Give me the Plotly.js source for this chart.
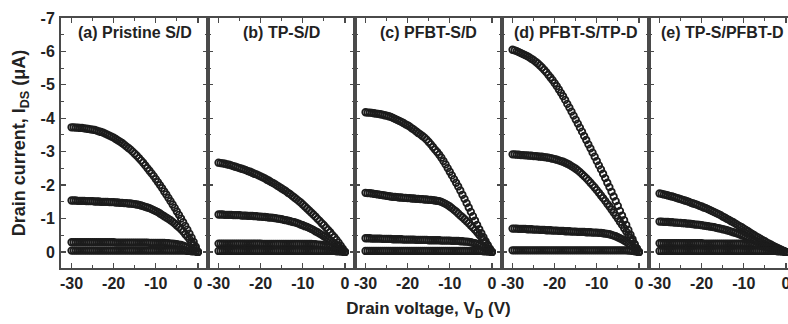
<!DOCTYPE html>
<html>
<head>
<meta charset="utf-8">
<script src="https://cdn.plot.ly/plotly-3.0.1.min.js"></script>
<style>
html,body{margin:0;padding:0;overflow:hidden;background:#fff;}
#chart{width:796px;height:324px;}
</style>
</head>
<body>
<div id="chart"></div>
<script>
// Drain voltage sweep (V)
const drainV = [-30,-29.5,-29,-28.5,-28,-27.5,-27,-26.5,-26,-25.5,-25,-24.5,-24,-23.5,-23,-22.5,-22,-21.5,-21,-20.5,-20,-19.5,-19,-18.5,-18,-17.5,-17,-16.5,-16,-15.5,-15,-14.5,-14,-13.5,-13,-12.5,-12,-11.5,-11,-10.5,-10,-9.5,-9,-8.5,-8,-7.5,-7,-6.5,-6,-5.5,-5,-4.5,-4,-3.5,-3,-2.5,-2,-1.5,-1,-0.5,0];

const panelTitles = ["(a) Pristine S/D","(b) TP-S/D","(c) PFBT-S/D","(d) PFBT-S/TP-D","(e) TP-S/PFBT-D"];
const xTickVals = [-30,-20,-10,0];
const xTickText = ["-30","-20","-10","0"];
const yTickVals = [-7,-6,-5,-4,-3,-2,-1,0];
const yTickText = ["-7","-6","-5","-4","-3","-2","-1","0"];

// (a) Pristine S/D
const a1 = [-3.73,-3.73,-3.72,-3.72,-3.71,-3.71,-3.70,-3.69,-3.68,-3.67,-3.66,-3.65,-3.63,-3.61,-3.59,-3.57,-3.54,-3.51,-3.48,-3.45,-3.42,-3.38,-3.34,-3.30,-3.26,-3.21,-3.16,-3.11,-3.06,-3.00,-2.94,-2.88,-2.81,-2.74,-2.67,-2.59,-2.51,-2.43,-2.35,-2.27,-2.18,-2.09,-2.00,-1.91,-1.81,-1.72,-1.62,-1.52,-1.42,-1.32,-1.21,-1.11,-1.00,-0.89,-0.78,-0.67,-0.55,-0.43,-0.30,-0.16,0];
const a2 = [-1.54,-1.54,-1.54,-1.53,-1.53,-1.53,-1.53,-1.52,-1.52,-1.52,-1.52,-1.51,-1.51,-1.51,-1.50,-1.50,-1.50,-1.50,-1.49,-1.49,-1.49,-1.48,-1.48,-1.47,-1.47,-1.46,-1.46,-1.45,-1.45,-1.44,-1.43,-1.42,-1.41,-1.39,-1.37,-1.35,-1.33,-1.31,-1.28,-1.25,-1.22,-1.19,-1.15,-1.11,-1.07,-1.03,-0.99,-0.95,-0.90,-0.85,-0.79,-0.74,-0.68,-0.61,-0.53,-0.46,-0.38,-0.29,-0.20,-0.10,0];
const a3 = [-0.29,-0.29,-0.29,-0.29,-0.29,-0.29,-0.29,-0.29,-0.29,-0.29,-0.29,-0.29,-0.29,-0.29,-0.29,-0.29,-0.29,-0.29,-0.29,-0.29,-0.29,-0.28,-0.28,-0.28,-0.28,-0.28,-0.28,-0.28,-0.28,-0.28,-0.28,-0.28,-0.28,-0.28,-0.28,-0.28,-0.28,-0.27,-0.27,-0.27,-0.27,-0.27,-0.27,-0.27,-0.27,-0.26,-0.26,-0.25,-0.25,-0.24,-0.23,-0.22,-0.21,-0.19,-0.17,-0.15,-0.12,-0.09,-0.06,-0.03,0];
const a4 = [-0.04,-0.04,-0.04,-0.04,-0.04,-0.04,-0.04,-0.04,-0.04,-0.04,-0.04,-0.04,-0.04,-0.04,-0.04,-0.04,-0.04,-0.04,-0.04,-0.04,-0.04,-0.04,-0.04,-0.04,-0.04,-0.04,-0.04,-0.04,-0.04,-0.04,-0.04,-0.04,-0.04,-0.04,-0.04,-0.04,-0.04,-0.04,-0.04,-0.04,-0.04,-0.04,-0.04,-0.04,-0.04,-0.04,-0.04,-0.04,-0.04,-0.04,-0.04,-0.04,-0.04,-0.04,-0.04,-0.03,-0.03,-0.02,-0.02,-0.01,0];

// (b) TP-S/D
const b1 = [-2.67,-2.66,-2.65,-2.64,-2.62,-2.61,-2.59,-2.57,-2.55,-2.53,-2.51,-2.49,-2.47,-2.45,-2.42,-2.40,-2.37,-2.34,-2.32,-2.29,-2.26,-2.23,-2.20,-2.16,-2.13,-2.09,-2.06,-2.02,-1.98,-1.94,-1.90,-1.86,-1.82,-1.77,-1.73,-1.68,-1.63,-1.58,-1.53,-1.48,-1.42,-1.36,-1.30,-1.24,-1.18,-1.12,-1.06,-0.99,-0.93,-0.86,-0.80,-0.73,-0.66,-0.59,-0.51,-0.44,-0.36,-0.28,-0.19,-0.10,0];
const b2 = [-1.12,-1.12,-1.12,-1.11,-1.11,-1.11,-1.11,-1.10,-1.10,-1.10,-1.10,-1.09,-1.09,-1.09,-1.08,-1.08,-1.08,-1.07,-1.07,-1.06,-1.06,-1.05,-1.05,-1.04,-1.03,-1.03,-1.02,-1.01,-1.00,-0.99,-0.98,-0.96,-0.95,-0.94,-0.92,-0.90,-0.89,-0.87,-0.85,-0.82,-0.80,-0.77,-0.75,-0.72,-0.69,-0.66,-0.62,-0.59,-0.55,-0.51,-0.47,-0.43,-0.39,-0.35,-0.30,-0.26,-0.21,-0.16,-0.11,-0.05,0];
const b3 = [-0.25,-0.25,-0.25,-0.25,-0.25,-0.25,-0.25,-0.25,-0.25,-0.25,-0.25,-0.25,-0.25,-0.25,-0.25,-0.25,-0.25,-0.25,-0.25,-0.25,-0.25,-0.24,-0.24,-0.24,-0.24,-0.24,-0.24,-0.24,-0.24,-0.24,-0.24,-0.24,-0.24,-0.24,-0.24,-0.24,-0.24,-0.24,-0.24,-0.24,-0.24,-0.24,-0.24,-0.24,-0.24,-0.23,-0.23,-0.22,-0.22,-0.21,-0.20,-0.19,-0.18,-0.16,-0.14,-0.12,-0.10,-0.07,-0.05,-0.02,0];
const b4 = [-0.03,-0.03,-0.03,-0.03,-0.03,-0.03,-0.03,-0.03,-0.03,-0.03,-0.03,-0.03,-0.03,-0.03,-0.03,-0.03,-0.03,-0.03,-0.03,-0.03,-0.03,-0.03,-0.03,-0.03,-0.03,-0.03,-0.03,-0.03,-0.03,-0.03,-0.03,-0.03,-0.03,-0.03,-0.03,-0.03,-0.03,-0.03,-0.03,-0.03,-0.03,-0.03,-0.03,-0.03,-0.03,-0.03,-0.03,-0.03,-0.03,-0.03,-0.03,-0.03,-0.03,-0.03,-0.03,-0.03,-0.02,-0.02,-0.01,-0.01,0];

// (c) PFBT-S/D
const c1 = [-4.18,-4.17,-4.17,-4.16,-4.15,-4.14,-4.13,-4.12,-4.11,-4.09,-4.08,-4.06,-4.04,-4.01,-3.98,-3.95,-3.92,-3.89,-3.86,-3.82,-3.79,-3.75,-3.70,-3.66,-3.61,-3.56,-3.52,-3.47,-3.42,-3.36,-3.29,-3.22,-3.14,-3.06,-2.99,-2.91,-2.82,-2.72,-2.62,-2.51,-2.40,-2.29,-2.18,-2.07,-1.96,-1.84,-1.71,-1.59,-1.46,-1.33,-1.20,-1.07,-0.94,-0.81,-0.68,-0.56,-0.44,-0.32,-0.21,-0.10,0];
const c2 = [-1.77,-1.76,-1.76,-1.75,-1.74,-1.73,-1.72,-1.71,-1.70,-1.69,-1.68,-1.67,-1.66,-1.65,-1.65,-1.64,-1.63,-1.63,-1.62,-1.62,-1.61,-1.61,-1.60,-1.60,-1.59,-1.59,-1.58,-1.58,-1.57,-1.57,-1.56,-1.56,-1.55,-1.54,-1.53,-1.52,-1.50,-1.47,-1.44,-1.40,-1.36,-1.31,-1.26,-1.21,-1.15,-1.09,-1.04,-0.98,-0.92,-0.86,-0.79,-0.73,-0.66,-0.59,-0.51,-0.44,-0.36,-0.27,-0.18,-0.09,0];
const c3 = [-0.41,-0.41,-0.41,-0.40,-0.40,-0.40,-0.40,-0.40,-0.39,-0.39,-0.39,-0.39,-0.39,-0.38,-0.38,-0.38,-0.38,-0.38,-0.37,-0.37,-0.37,-0.37,-0.37,-0.37,-0.36,-0.36,-0.36,-0.36,-0.36,-0.36,-0.35,-0.35,-0.35,-0.35,-0.35,-0.35,-0.34,-0.34,-0.34,-0.34,-0.34,-0.33,-0.33,-0.33,-0.33,-0.32,-0.32,-0.31,-0.31,-0.30,-0.29,-0.27,-0.26,-0.24,-0.21,-0.18,-0.14,-0.11,-0.07,-0.04,0];
const c4 = [-0.03,-0.03,-0.03,-0.03,-0.03,-0.03,-0.03,-0.03,-0.03,-0.03,-0.03,-0.03,-0.03,-0.03,-0.03,-0.03,-0.03,-0.03,-0.03,-0.03,-0.03,-0.03,-0.03,-0.03,-0.03,-0.03,-0.03,-0.03,-0.03,-0.03,-0.03,-0.03,-0.03,-0.03,-0.03,-0.03,-0.03,-0.03,-0.03,-0.03,-0.03,-0.03,-0.03,-0.03,-0.03,-0.03,-0.03,-0.03,-0.03,-0.03,-0.03,-0.03,-0.03,-0.03,-0.03,-0.03,-0.02,-0.02,-0.01,-0.01,0];

// (d) PFBT-S/TP-D
const d1 = [-6.05,-6.03,-6.01,-5.98,-5.95,-5.92,-5.89,-5.86,-5.82,-5.78,-5.74,-5.69,-5.64,-5.58,-5.52,-5.45,-5.38,-5.30,-5.22,-5.14,-5.05,-4.96,-4.86,-4.76,-4.66,-4.55,-4.43,-4.32,-4.20,-4.08,-3.96,-3.84,-3.72,-3.60,-3.47,-3.35,-3.22,-3.10,-2.97,-2.85,-2.72,-2.59,-2.47,-2.34,-2.21,-2.07,-1.94,-1.80,-1.66,-1.52,-1.38,-1.23,-1.09,-0.95,-0.81,-0.66,-0.52,-0.38,-0.24,-0.11,0];
const d2 = [-2.92,-2.92,-2.91,-2.91,-2.90,-2.90,-2.89,-2.89,-2.88,-2.88,-2.87,-2.87,-2.86,-2.85,-2.85,-2.84,-2.83,-2.82,-2.81,-2.79,-2.78,-2.76,-2.74,-2.72,-2.70,-2.67,-2.64,-2.61,-2.57,-2.53,-2.49,-2.44,-2.39,-2.33,-2.27,-2.21,-2.14,-2.07,-2.00,-1.93,-1.85,-1.77,-1.69,-1.61,-1.53,-1.44,-1.36,-1.27,-1.18,-1.09,-1.00,-0.90,-0.81,-0.71,-0.61,-0.52,-0.42,-0.32,-0.21,-0.10,0];
const d3 = [-0.70,-0.70,-0.70,-0.69,-0.69,-0.69,-0.69,-0.68,-0.68,-0.68,-0.67,-0.67,-0.67,-0.66,-0.66,-0.66,-0.65,-0.65,-0.65,-0.64,-0.64,-0.64,-0.63,-0.63,-0.63,-0.62,-0.62,-0.62,-0.61,-0.61,-0.61,-0.60,-0.60,-0.60,-0.60,-0.59,-0.59,-0.59,-0.58,-0.58,-0.58,-0.57,-0.57,-0.56,-0.55,-0.54,-0.53,-0.51,-0.49,-0.47,-0.44,-0.41,-0.38,-0.34,-0.30,-0.26,-0.21,-0.16,-0.11,-0.05,0];
const d4 = [-0.05,-0.05,-0.05,-0.05,-0.05,-0.05,-0.05,-0.05,-0.05,-0.05,-0.05,-0.05,-0.05,-0.05,-0.05,-0.05,-0.05,-0.05,-0.05,-0.05,-0.05,-0.05,-0.05,-0.05,-0.05,-0.05,-0.05,-0.05,-0.05,-0.05,-0.05,-0.05,-0.05,-0.05,-0.05,-0.05,-0.05,-0.05,-0.05,-0.05,-0.05,-0.05,-0.05,-0.05,-0.05,-0.05,-0.05,-0.05,-0.05,-0.05,-0.05,-0.05,-0.05,-0.05,-0.05,-0.04,-0.04,-0.03,-0.02,-0.01,0];

// (e) TP-S/PFBT-D
const e1 = [-1.75,-1.74,-1.72,-1.71,-1.69,-1.67,-1.66,-1.64,-1.62,-1.60,-1.58,-1.56,-1.54,-1.52,-1.50,-1.47,-1.45,-1.43,-1.41,-1.38,-1.36,-1.33,-1.31,-1.28,-1.25,-1.22,-1.19,-1.16,-1.13,-1.10,-1.06,-1.03,-0.99,-0.96,-0.92,-0.89,-0.85,-0.81,-0.77,-0.74,-0.70,-0.66,-0.62,-0.58,-0.54,-0.50,-0.46,-0.43,-0.39,-0.35,-0.32,-0.28,-0.25,-0.22,-0.18,-0.15,-0.12,-0.09,-0.06,-0.03,0];
const e2 = [-0.91,-0.91,-0.90,-0.90,-0.90,-0.89,-0.89,-0.88,-0.88,-0.87,-0.87,-0.86,-0.86,-0.85,-0.85,-0.84,-0.83,-0.82,-0.82,-0.81,-0.80,-0.79,-0.78,-0.77,-0.76,-0.75,-0.74,-0.72,-0.71,-0.70,-0.68,-0.67,-0.65,-0.63,-0.61,-0.59,-0.57,-0.55,-0.53,-0.50,-0.48,-0.45,-0.43,-0.40,-0.37,-0.34,-0.32,-0.29,-0.26,-0.23,-0.21,-0.18,-0.16,-0.13,-0.11,-0.09,-0.07,-0.05,-0.03,-0.02,0];
const e3 = [-0.26,-0.26,-0.26,-0.26,-0.26,-0.26,-0.26,-0.26,-0.26,-0.26,-0.26,-0.26,-0.26,-0.26,-0.26,-0.26,-0.26,-0.26,-0.26,-0.26,-0.26,-0.25,-0.25,-0.25,-0.25,-0.25,-0.25,-0.25,-0.25,-0.25,-0.25,-0.25,-0.25,-0.25,-0.25,-0.25,-0.25,-0.25,-0.25,-0.25,-0.25,-0.24,-0.24,-0.23,-0.22,-0.22,-0.21,-0.20,-0.19,-0.17,-0.16,-0.15,-0.13,-0.12,-0.10,-0.09,-0.07,-0.05,-0.04,-0.02,0];
const e4 = [-0.03,-0.03,-0.03,-0.03,-0.03,-0.03,-0.03,-0.03,-0.03,-0.03,-0.03,-0.03,-0.03,-0.03,-0.03,-0.03,-0.03,-0.03,-0.03,-0.03,-0.03,-0.03,-0.03,-0.03,-0.03,-0.03,-0.03,-0.03,-0.03,-0.03,-0.03,-0.03,-0.03,-0.03,-0.03,-0.03,-0.03,-0.03,-0.03,-0.03,-0.03,-0.03,-0.03,-0.03,-0.03,-0.03,-0.03,-0.03,-0.03,-0.03,-0.03,-0.03,-0.03,-0.03,-0.03,-0.03,-0.02,-0.02,-0.01,-0.01,0];

const panels = [[a1,a2,a3,a4],[b1,b2,b3,b4],[c1,c2,c3,c4],[d1,d2,d3,d4],[e1,e2,e3,e4]];

const FONT = "'Liberation Sans', Arial, sans-serif";
const INK = '#1c1c1c';
const FRAME = '#4a4a4a';

const traces = [];
panels.forEach((curves, p) => {
  const sfx = p === 0 ? '' : String(p + 1);
  curves.forEach(ys => {
    traces.push({
      x: drainV, y: ys, type: 'scatter', mode: 'markers',
      xaxis: 'x' + sfx, yaxis: 'y' + sfx,
      marker: {symbol: 'circle-open', size: 6.5, color: INK, line: {color: INK, width: 1.8}},
      hoverinfo: 'skip', showlegend: false
    });
  });
});

const layout = {
  width: 796, height: 324,
  margin: {l: 61, r: 0, t: 18, b: 56},
  paper_bgcolor: '#fff', plot_bgcolor: '#fff',
  showlegend: false,
  annotations: []
};

for (let p = 0; p < 5; p++) {
  const sfx = p === 0 ? '' : String(p + 1);
  layout['xaxis' + sfx] = {
    domain: [p * 0.2, (p + 1) * 0.2],
    anchor: 'y' + sfx,
    range: [-32.5, 2.4],
    tickvals: xTickVals, ticktext: xTickText,
    ticks: 'inside', ticklen: 5, tickwidth: 1.3, tickcolor: FRAME,
    minor: {ticks: 'inside', dtick: 5, ticklen: 3, tickwidth: 1, tickcolor: FRAME},
    showline: true, linecolor: FRAME, linewidth: 2, mirror: 'ticks',
    showgrid: false, zeroline: false,
    tickfont: {family: FONT, size: 16, color: '#222', weight: 'bold'},
    ticklabelstandoff: 0
  };
  layout['yaxis' + sfx] = {
    domain: [0, 1],
    anchor: 'x' + sfx,
    range: [0.48, -7],
    tickvals: yTickVals, ticktext: yTickText,
    showticklabels: p === 0,
    ticks: 'inside', ticklen: 5, tickwidth: 1.3, tickcolor: FRAME,
    minor: {ticks: 'inside', dtick: 0.5, ticklen: 3, tickwidth: 1, tickcolor: FRAME},
    showline: true, linecolor: FRAME, linewidth: 2, mirror: 'ticks',
    showgrid: false, zeroline: false,
    tickfont: {family: FONT, size: 16, color: '#222', weight: 'bold'},
    ticklabelstandoff: 1
  };
  if (p > 0) layout['yaxis' + sfx].matches = 'y';
  layout.annotations.push({
    text: panelTitles[p], xref: 'x' + sfx + ' domain', yref: 'paper',
    x: 0.5, y: 0.944, xanchor: 'center', yanchor: 'middle', showarrow: false,
    font: {family: FONT, size: 16, color: '#222', weight: 'bold'}
  });
}

layout.yaxis.title = {text: 'Drain current, I<sub>DS</sub> (μA)', standoff: 10,
  font: {family: FONT, size: 18, color: '#222', weight: 'bold'}};
layout.xaxis3.title = {text: 'Drain voltage, V<sub>D</sub> (V)', standoff: 11,
  font: {family: FONT, size: 17, color: '#222', weight: 'bold'}};

Plotly.newPlot('chart', traces, layout, {staticPlot: true, displayModeBar: false});
</script>
</body>
</html>
